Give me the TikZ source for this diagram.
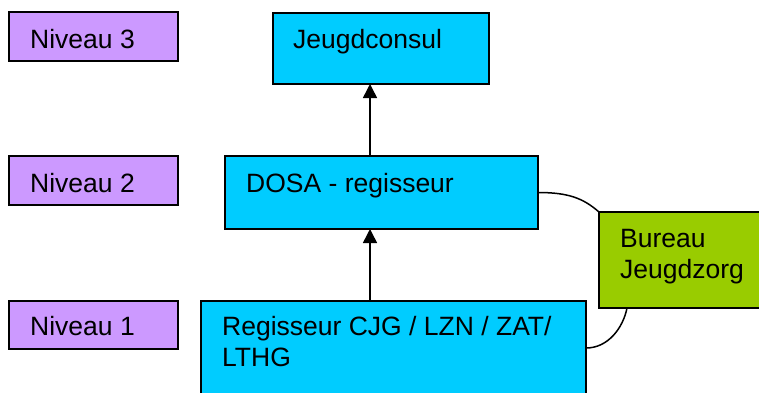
\documentclass[tikz,border=0pt]{standalone}
\usepackage{fontspec}
\setmainfont{Liberation Sans}
\usetikzlibrary{arrows.meta,calc}
\definecolor{levelpurple}{HTML}{CC99FF}
\definecolor{orgcyan}{HTML}{00CCFF}
\definecolor{orggreen}{HTML}{99CC00}
\tikzset{
  box/.style={draw=black, line width=2pt, inner sep=0pt, outer sep=0pt, rectangle},
  levelbox/.style={box, fill=levelpurple, minimum width=169pt, minimum height=49pt},
  orgbox/.style={box, fill=orgcyan},
  label/.style={anchor=base west, inner sep=0pt, align=left,
    font=\fontsize{26.5}{31}\selectfont},
  uparrow/.style={line width=1.5pt, -{Triangle[length=14pt,width=14pt]}},
  link/.style={line width=1.5pt}
}
\begin{document}
\begin{tikzpicture}[x=1pt,y=-1pt]
  \useasboundingbox (0,0) rectangle (759,392);
  \clip (0,0) rectangle (759,392);
  \fill[white] (0,0) rectangle (759,392);

  % level markers
  \node[levelbox] (n3) at (93.5,36.5) {};
  \node[levelbox] (n2) at (93.5,180.5) {};
  \node[levelbox, minimum height=48pt] (n1) at (93.5,325) {};
  \node[label] (n3t) at (30,48) {Niveau 3};
  \node[label] (n2t) at (30,192) {Niveau 2};
  \node[label] (n1t) at (30,335) {Niveau 1};

  % organisation boxes
  \node[orgbox, minimum width=216pt, minimum height=71pt] (consul) at (381,48.5) {};
  \node[orgbox, minimum width=313pt, minimum height=73pt] (dosa) at (381.5,192.5) {};
  \node[orgbox, minimum width=385pt, minimum height=100pt] (reg) at (393.5,351) {};
  \node[box, fill=orggreen, minimum width=176pt, minimum height=96pt] (bjz) at (687,260) {};

  % two-line labels are placed by the baseline of their last line
  \node[label] (consult) at (293,48) {Jeugdconsul};
  \node[label] (dosat) at (246,192) {DOSA - regisseur};
  \node[label] (regt) at (222,366) {Regisseur CJG / LZN / ZAT/\\LTHG};
  \node[label] (bjzt) at (620,278) {Bureau\\Jeugdzorg};

  % reporting lines
  \coordinate (ax) at (370,0);
  \draw[uparrow] (reg.north -| ax) -- (dosa.south -| ax);
  \draw[uparrow] (dosa.north -| ax) -- (consul.south -| ax);

  % links with Bureau Jeugdzorg
  \coordinate (r1) at ($(reg.north east)+(0,47)$);
  \coordinate (b1) at ($(bjz.south west)+(28,0)$);
  \draw[link] (dosa.east) .. controls ($(dosa.east)+(30,0)$) and ($(bjz.north west)+(-16,-14)$) .. (bjz.north west);
  \draw[link] (r1) .. controls ($(r1)+(22,0)$) and ($(b1)+(-4,20)$) .. (b1);
\end{tikzpicture}
\end{document}
